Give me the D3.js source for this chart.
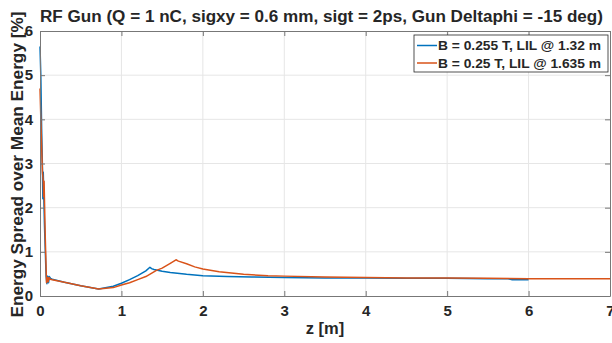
<!DOCTYPE html>
<html>
<head>
<meta charset="utf-8">
<script src="https://cdn.jsdelivr.net/npm/d3@7"></script>
<style>
  body { margin: 0; background: #fff; }
  svg text { font-family: "Liberation Sans", Arial, sans-serif; font-weight: bold; fill: #262626; }
</style>
</head>
<body>
<svg width="612" height="343"></svg>
<script>
const width = 612, height = 343;
const svg = d3.select("svg");

// Data
const xTicks = [0, 1, 2, 3, 4, 5, 6, 7];
const yTicks = [0, 1, 2, 3, 4, 5, 6];

const seriesNames = ["B = 0.255 T, LIL @ 1.32 m", "B = 0.25 T, LIL @ 1.635 m"];
const seriesColors = ["#0072BD", "#D95319"];

const zBlue = [0, 0.01, 0.02, 0.03, 0.035, 0.04, 0.055, 0.075, 0.085, 0.095, 0.105, 0.115, 0.13, 0.15,
  0.3, 0.5, 0.72, 0.9, 1.0, 1.1, 1.2, 1.3, 1.35, 1.37, 1.4, 1.5, 1.6, 1.8, 2.0, 2.3, 2.6, 3.0,
  3.5, 4.0, 4.5, 5.0, 5.5, 5.75, 5.8, 6.0];
const eBlue = [5.65, 5.0, 3.8, 2.9, 2.2, 2.8, 1.6, 0.45, 0.28, 0.45, 0.3, 0.44, 0.4, 0.38,
  0.31, 0.23, 0.16, 0.22, 0.29, 0.37, 0.46, 0.57, 0.65, 0.62, 0.6, 0.56, 0.53, 0.49, 0.46, 0.44, 0.43, 0.42,
  0.41, 0.41, 0.40, 0.40, 0.39, 0.39, 0.37, 0.37];

const zOrange = [0, 0.015, 0.03, 0.04, 0.045, 0.05, 0.065, 0.08, 0.09, 0.1, 0.11, 0.125, 0.15,
  0.3, 0.5, 0.72, 0.9, 1.0, 1.1, 1.2, 1.3, 1.43, 1.5, 1.6, 1.67, 1.7, 1.8, 1.9, 2.0, 2.2, 2.5,
  2.8, 3.0, 3.5, 4.0, 4.5, 5.0, 5.5, 6.0, 6.5, 7.0];
const eOrange = [4.7, 3.7, 2.8, 2.6, 2.25, 2.6, 1.3, 0.3, 0.42, 0.32, 0.42, 0.38, 0.37,
  0.31, 0.23, 0.16, 0.19, 0.25, 0.3, 0.37, 0.44, 0.58, 0.63, 0.74, 0.82, 0.79, 0.73, 0.66, 0.61, 0.55, 0.49,
  0.46, 0.45, 0.43, 0.42, 0.41, 0.41, 0.40, 0.39, 0.39, 0.39];

const margin = { left: 40, right: 2, top: 31, bottom: 47 };
const x = d3.scaleLinear().domain([0, 7]).range([margin.left, width - margin.right]);
const y = d3.scaleLinear().domain([0, 6]).range([height - margin.bottom, margin.top]);

// grid
svg.append("g").selectAll("line").data(xTicks.slice(1, -1)).enter().append("line")
  .attr("x1", d => x(d)).attr("x2", d => x(d)).attr("y1", y(0)).attr("y2", y(6))
  .attr("stroke", "#e6e6e6").attr("stroke-width", 1);
svg.append("g").selectAll("line").data(yTicks.slice(1, -1)).enter().append("line")
  .attr("x1", x(0)).attr("x2", x(7)).attr("y1", d => y(d)).attr("y2", d => y(d))
  .attr("stroke", "#e6e6e6").attr("stroke-width", 1);

// lines
const line = d3.line().x(d => x(d[0])).y(d => y(d[1]));
const series = [d3.zip(zBlue, eBlue), d3.zip(zOrange, eOrange)];
series.forEach((s, i) => {
  svg.append("path").datum(s).attr("fill", "none").attr("stroke", seriesColors[i])
    .attr("stroke-width", 1.5).attr("stroke-linejoin", "round").attr("d", line);
});

// axes (MATLAB box with inward ticks)
const axisColor = "#262626";
const styleAxis = g => {
  g.selectAll("path").attr("stroke", "#777");
  g.selectAll("line").attr("stroke", "#777");
};
svg.append("g").attr("transform", `translate(0,${y(0)})`)
  .call(d3.axisBottom(x).tickValues(xTicks).tickFormat(d3.format("d")).tickSizeInner(-5).tickSizeOuter(0).tickPadding(9))
  .call(styleAxis)
  .selectAll("text").style("font-size", "15px").attr("fill", axisColor);
svg.append("g").attr("transform", `translate(${x(0)},0)`)
  .call(d3.axisLeft(y).tickValues(yTicks).tickFormat(d3.format("d")).tickSizeInner(-5).tickSizeOuter(0).tickPadding(7))
  .call(styleAxis)
  .selectAll("text").style("font-size", "15px").attr("fill", axisColor);
svg.append("g").attr("transform", `translate(0,${y(6)})`)
  .call(d3.axisTop(x).tickValues(xTicks).tickSizeInner(-5).tickSizeOuter(0).tickFormat(""))
  .call(styleAxis);
svg.append("g").attr("transform", `translate(${x(7)},0)`)
  .call(d3.axisRight(y).tickValues(yTicks).tickSizeInner(-5).tickSizeOuter(0).tickFormat(""))
  .call(styleAxis);

// labels
svg.append("text").attr("x", 40).attr("y", 22)
  .attr("textLength", 563).attr("lengthAdjust", "spacingAndGlyphs")
  .style("font-size", "16px").text("RF Gun (Q = 1 nC, sigxy = 0.6 mm, sigt = 2ps, Gun Deltaphi = -15 deg)");
svg.append("text").attr("x", x(3.5)).attr("y", 334).attr("text-anchor", "middle")
  .style("font-size", "16.5px").text("z [m]");
svg.append("text").attr("transform", `translate(23,${(y(0) + y(6)) / 2 + 1}) rotate(-90)`)
  .attr("text-anchor", "middle").attr("textLength", 306).attr("lengthAdjust", "spacingAndGlyphs")
  .style("font-size", "16.5px").text("Energy Spread over Mean Energy [%]");

// legend
const lg = svg.append("g").attr("transform", "translate(414,35)");
lg.append("rect").attr("width", 194).attr("height", 37).attr("fill", "#fff").attr("stroke", "#262626").attr("stroke-width", 0.8);
const items = lg.selectAll(".item").data(seriesNames).enter().append("g")
  .attr("transform", (d, i) => `translate(0,${10.5 + i * 17.5})`);
items.append("line").attr("x1", 3).attr("x2", 23).attr("stroke", (d, i) => seriesColors[i]).attr("stroke-width", 1.5);
items.append("text").attr("x", 24).attr("dy", "0.36em")
  .attr("textLength", 163).attr("lengthAdjust", "spacingAndGlyphs")
  .style("font-size", "13.5px").text(d => d);
</script>
</body>
</html>
